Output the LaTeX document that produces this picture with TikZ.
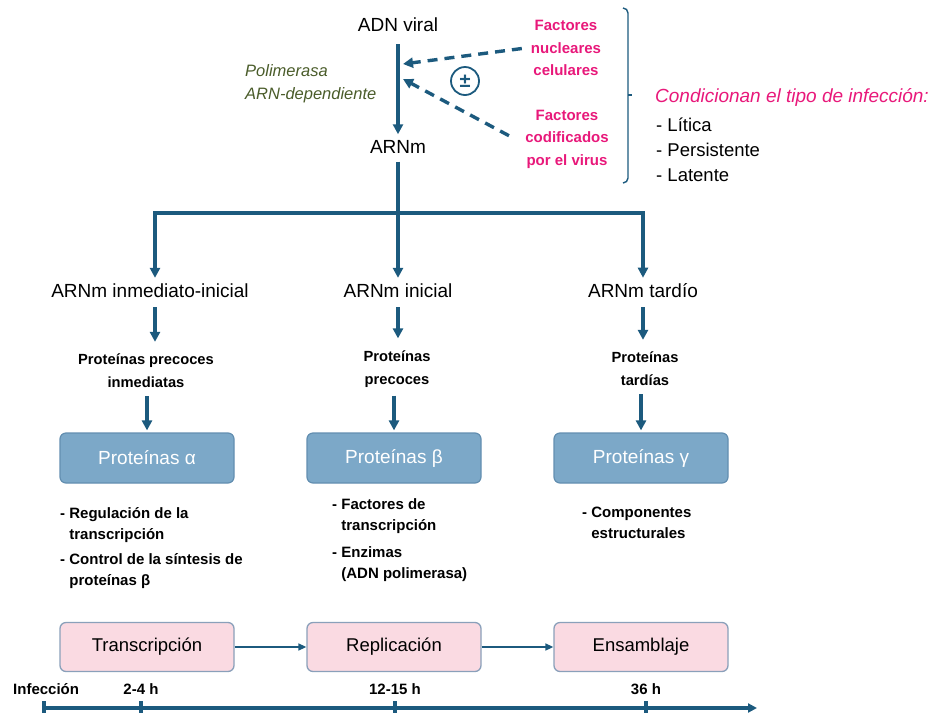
\documentclass[tikz,border=0pt]{standalone}
\usepackage{fontspec}
\setmainfont{Liberation Sans}
\usetikzlibrary{arrows.meta}
\definecolor{flowblue}{RGB}{28,90,126}
\definecolor{boxblue}{RGB}{124,168,200}
\definecolor{boxblueline}{RGB}{98,142,176}
\definecolor{boxpink}{RGB}{250,218,226}
\definecolor{boxpinkline}{RGB}{138,160,186}
\definecolor{factpink}{RGB}{232,24,122}
\definecolor{polgreen}{RGB}{74,92,42}
\begin{document}
\begin{tikzpicture}
  [
    x=1pt, y=-1pt,
    inner sep=0pt,
    mrna/.style={font=\fontsize{19}{23}\selectfont},
    prot/.style={font=\bfseries\fontsize{14.7}{23}\selectfont, align=center},
    factor/.style={text=factpink, font=\bfseries\fontsize{15}{22.5}\selectfont, align=center},
    role/.style={anchor=west, align=left, font=\bfseries\fontsize{15}{21}\selectfont},
    hour/.style={font=\bfseries\fontsize{15}{18}\selectfont},
    blueblock/.style={rectangle, rounded corners=6pt, draw=boxblueline, fill=boxblue, line width=1.2pt,
      minimum width=174pt, minimum height=50pt, text=white, font=\fontsize{19}{23}\selectfont},
    pinkblock/.style={rectangle, rounded corners=6pt, draw=boxpinkline, fill=boxpink, line width=1.3pt,
      minimum width=174pt, minimum height=49pt, font=\fontsize{18.5}{23}\selectfont},
    trunk/.style={draw=flowblue, line width=3.8pt},
    flow/.style={trunk, -{Triangle[length=10pt,width=10pt]}},
    hint/.style={flow, line width=3.4pt, dash pattern=on 10pt off 7pt},
    link/.style={draw=flowblue, line width=1.5pt, -{Triangle[length=8pt,width=7pt]}},
    axis/.style={draw=flowblue, line width=3.8pt},
  ]
  \useasboundingbox (0,0) rectangle (929,713);

  % top: viral DNA to mRNA
  \node[mrna] (adn)  at (398,25)  {ADN viral};
  \node[mrna] (arnm) at (398,147) {ARNm};
  \node[anchor=west, align=left, text=polgreen, font=\itshape\fontsize{16.5}{23}\selectfont]
    (pol) at (245,84) {Polimerasa\\ARN-dependiente};
  \draw[flow, shorten <=12pt, shorten >=6pt] (adn) -- (arnm);

  % regulating factors
  \node[factor] (nuc) at (566,48)  {Factores\\nucleares\\celulares};
  \node[factor] (cod) at (567,139) {Factores\\codificados\\por el virus};
  \node[circle, draw=flowblue, line width=1.8pt, minimum size=28pt, text=flowblue,
    font=\bfseries\fontsize{20}{20}\selectfont] (pm) at (465,81) {±};
  \coordinate (hitA) at (403,64);
  \coordinate (hitB) at (403,79);
  \draw[hint, dash phase=13pt] ([xshift=-5pt]nuc.west) -- (hitA);
  \draw[hint, dash phase=10pt] ([xshift=-10pt]cod.west) -- (hitB);

  % bracket and infection types
  \draw[draw=flowblue, line width=1.4pt] (623,8) to[out=0,in=90] (628,13) -- (628,178) to[out=-90,in=0] (623,183);
  \draw[draw=flowblue, line width=1.4pt] (628,95) -- (632,95);
  \node[anchor=west, text=factpink, font=\itshape\fontsize{19}{23}\selectfont]
    (cond) at (655,97) {Condicionan el tipo de infección:};
  \node[anchor=west, align=left, font=\fontsize{18.5}{25}\selectfont]
    (types) at (656,150) {- Lítica\\- Persistente\\- Latente};

  % branching of mRNA
  \coordinate (fork)  at (398,213);
  \coordinate (forkL) at (155,213);
  \coordinate (forkR) at (643,213);
  \node[mrna] (mrnaA) at (150,291) {ARNm inmediato-inicial};
  \node[mrna] (mrnaB) at (398,291) {ARNm inicial};
  \node[mrna] (mrnaC) at (643,291) {ARNm tardío};
  \draw[trunk] ([yshift=-8pt]arnm.south) -- (fork);
  \draw[trunk, line cap=rect] (forkL) -- (forkR);
  \draw[flow, shorten >=6pt] (forkL) -- (forkL |- mrnaA.north);
  \draw[flow, shorten >=6pt] (fork) -- (mrnaB.north);
  \draw[flow, shorten >=6pt] (forkR) -- (mrnaC.north);

  % early and late proteins
  \node[prot] (protA) at (146,371) {Proteínas precoces\\inmediatas};
  \node[prot] (protB) at (397,369) {Proteínas\\precoces};
  \node[prot] (protC) at (645,369) {Proteínas\\tardías};
  \draw[flow, shorten <=9pt, shorten >=12pt] ([xshift=5pt]mrnaA.south) -- ([xshift=5pt]mrnaA.south |- protA.north);
  \draw[flow, shorten <=9pt, shorten >=12pt] (mrnaB.south) -- (mrnaB.south |- protB.north);
  \draw[flow, shorten <=9pt, shorten >=12pt] (mrnaC.south) -- (mrnaC.south |- protC.north);

  \node[blueblock] (boxA) at (147,458) {Proteínas α};
  \node[blueblock] (boxB) at (394,458) {Proteínas β};
  \node[blueblock] (boxC) at (641,458) {Proteínas γ};
  \draw[flow, shorten <=8pt, shorten >=2pt] (protA.south -| boxA.north) -- (boxA.north);
  \draw[flow, shorten <=8pt, shorten >=2pt] (protB.south -| boxB.north) -- (boxB.north);
  \draw[flow, shorten <=8pt, shorten >=2pt] (protC.south -| boxC.north) -- (boxC.north);

  % functions
  \node[role] (roleA1) at (60,525)   {- Regulación de la\\\hphantom{- }transcripción};
  \node[role] (roleA2) at (60,571.5) {- Control de la síntesis de\\\hphantom{- }proteínas β};
  \node[role] (roleB1) at (332,516.5) {- Factores de\\\hphantom{- }transcripción};
  \node[role] (roleB2) at (332,564.5) {- Enzimas\\\hphantom{- }(ADN polimerasa)};
  \node[role] (roleC1) at (582,522.5) {- Componentes\\\hphantom{- }estructurales};

  % stages
  \node[pinkblock] (stageA) at (147,647) {Transcripción};
  \node[pinkblock] (stageB) at (394,647) {Replicación};
  \node[pinkblock] (stageC) at (641,647) {Ensamblaje};
  \draw[link] (stageA) -- (stageB);
  \draw[link] (stageB) -- (stageC);

  % time axis
  \node[hour, anchor=west] (inf) at (13,689) {Infección};
  \node[hour] (hA) at (141,689) {2-4 h};
  \node[hour] (hB) at (395,689) {12-15 h};
  \node[hour] (hC) at (646,689) {36 h};
  \coordinate (t0) at (44,708);
  \coordinate (tend) at (757,708);
  \draw[axis, -{Triangle[length=9pt,width=9pt]}] (t0) -- (tend);
  \foreach \t in {44,141,395,646}
    \draw[axis, line width=3.4pt] (\t,701) -- (\t,713);
\end{tikzpicture}
\end{document}
